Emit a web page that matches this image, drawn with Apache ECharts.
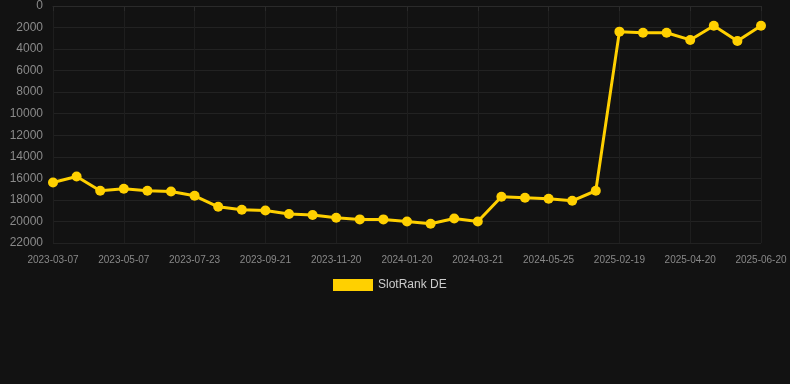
<!DOCTYPE html>
<html><head><meta charset="utf-8">
<script src="https://cdn.jsdelivr.net/npm/echarts@6/dist/echarts.min.js"></script>
<style>html,body{margin:0;padding:0;background:#121212;}#c{width:790px;height:384px;}</style>
</head><body><div id="c"></div>
<script>
const categories = ["2023-03-07","2023-03-27","2023-04-17","2023-05-07","2023-05-28","2023-06-18","2023-07-23","2023-08-12","2023-09-01","2023-09-21","2023-10-11","2023-10-31","2023-11-20","2023-12-10","2023-12-31","2024-01-20","2024-02-09","2024-03-01","2024-03-21","2024-04-12","2024-05-03","2024-05-25","2024-06-15","2024-07-06","2025-02-19","2025-03-11","2025-03-31","2025-04-20","2025-05-10","2025-05-31","2025-06-20"];
const seriesName = "SlotRank DE";
const values = [16380,15830,17150,16970,17150,17220,17620,18640,18910,18980,19310,19400,19660,19810,19810,20000,20210,19720,20000,17710,17800,17890,18080,17150,2380,2480,2480,3150,1830,3250,1830];
const yTicks = {min:0, max:22000, interval:2000};

const chart = echarts.init(document.getElementById('c'));
chart.setOption({
  backgroundColor:'#121212',
  animation:false,
  grid:{left:53, right:29, top:6, bottom:141, containLabel:false},
  legend:{data:[seriesName], top:274, left:328, itemWidth:40, itemHeight:12, icon:'rect', itemGap:10,
    textStyle:{color:'#cccccc', fontSize:12, fontFamily:'Arial, Liberation Sans, sans-serif'}},
  xAxis:{type:'category', data:categories, boundaryGap:false,
    axisLine:{lineStyle:{color:'#2a2a2a'}},
    axisTick:{show:true, interval:2, lineStyle:{color:'#2a2a2a'}},
    axisLabel:{interval:2, color:'#888888', fontSize:10, margin:12, fontFamily:'Arial, Liberation Sans, sans-serif'},
    splitLine:{show:true, interval:2, lineStyle:{color:'#1e1e1e'}}},
  yAxis:{type:'value', inverse:true, min:yTicks.min, max:yTicks.max, interval:yTicks.interval,
    axisLine:{show:false}, axisTick:{show:false},
    axisLabel:{color:'#8a8a8a', fontSize:12, margin:10, formatter:function(v){return String(v);}, fontFamily:'Arial, Liberation Sans, sans-serif'},
    splitLine:{lineStyle:{color:'#222222'}}},
  series:[{name:seriesName, type:'line', data:values, symbol:'circle', symbolSize:10,
    lineStyle:{width:3, color:'#FFD000'}, itemStyle:{color:'#FFD000'}}]
});
</script></body></html>
